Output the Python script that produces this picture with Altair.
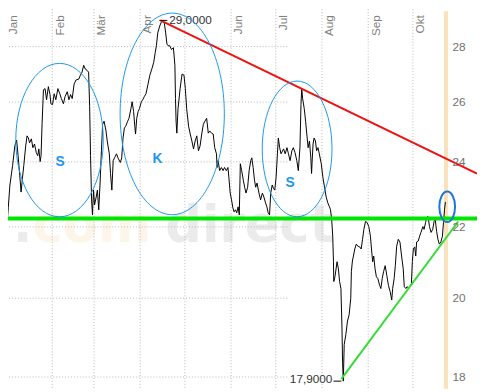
import altair as alt
import pandas as pd

# ---- data (x = days since 1 Jan, y = price) ----
days = [-4.0,0.7,1.5,2.6,4.4,5.9,7.1,8.1,9.2,10.1,11.0,11.9,13.2,14.1,15.0,15.8,17.0,18.0,19.1,20.3,
        21.3,22.0,22.9,23.5,24.2,25.1,26.2,27.2,28.4,29.5,30.1,31.2,32.3,33.4,34.8,36.1,37.1,38.5,39.6,41.1,
        42.2,43.3,44.4,45.7,47.0,48.8,49.9,51.0,52.1,53.2,54.3,55.4,56.1,56.7,57.4,58.0,58.7,59.4,60.5,61.3,
        62.2,63.1,64.0,64.8,65.8,67.1,67.9,69.3,70.1,71.0,71.9,72.8,74.1,75.4,76.7,77.6,78.5,79.4,80.3,81.6,
        82.5,83.8,84.6,85.6,86.4,86.9,87.7,88.6,89.5,90.8,91.7,92.8,93.9,95.2,96.5,97.8,99.1,100.1,100.9,101.8,
        103.1,104.4,105.3,106.2,107.1,108.0,108.8,109.7,111.0,112.3,113.3,113.7,114.1,114.6,115.4,116.8,118.1,119.4,120.3,121.2,
        122.5,123.6,124.7,125.8,126.9,128.0,129.1,130.2,131.3,132.4,133.4,134.6,135.7,136.7,137.9,139.0,140.0,141.2,141.6,142.3,
        143.3,144.5,145.6,146.6,147.8,148.9,149.5,150.4,151.3,152.2,153.0,153.9,154.8,155.7,156.5,157.2,158.1,159.2,160.1,161.0,
        162.1,163.1,164.2,164.9,165.8,166.7,167.5,168.4,169.7,170.8,172.0,173.0,174.1,175.0,175.9,176.8,177.6,178.6,179.4,180.3,
        181.2,182.1,182.7,183.6,184.5,186.2,187.3,188.5,189.5,190.6,191.8,192.8,193.9,195.1,196.1,197.2,197.9,198.4,199.0,200.1,
        201.0,201.8,202.7,203.6,204.5,205.0,205.3,206.0,206.7,207.6,208.4,209.3,210.2,211.5,212.6,213.7,214.8,215.9,217.0,217.7,
        218.5,219.2,219.7,219.9,220.8,222.1,223.0,223.8,224.7,225.4,225.8,226.3,226.9,228.0,229.1,230.2,231.3,231.7,232.4,233.1,
        234.0,235.0,236.1,237.3,238.3,239.2,240.1,241.2,242.3,243.4,244.5,245.2,246.0,246.7,247.6,248.5,249.5,250.7,251.5,252.4,
        253.3,254.4,255.5,256.6,257.7,258.8,259.4,260.4,261.2,262.1,263.2,264.3,265.4,266.5,267.2,268.3,269.1,270.4,271.3,272.0,
        272.6,273.3,274.2,274.9,275.5,276.6,277.5,278.4,279.7,280.5,281.5,282.3,283.2,284.1,285.2,286.3,287.2,288.0,288.9,289.8,
        290.7,291.8,292.8,293.5,294.2,294.8]
prices = [22.07,22.07,22.57,23.27,23.88,24.52,24.71,24.20,23.57,23.05,23.48,23.88,24.52,24.85,24.78,24.62,24.75,24.46,24.58,24.30,
          24.20,24.42,24.01,24.20,25.27,26.43,26.47,26.08,26.54,26.26,25.94,25.91,26.29,26.08,26.47,26.29,26.12,25.94,26.19,26.36,
          26.08,26.26,26.12,26.64,26.78,26.81,26.95,27.06,27.31,27.17,27.13,27.06,25.84,24.20,22.81,22.36,23.11,22.66,22.90,23.11,
          22.51,23.33,24.36,25.24,25.34,25.01,24.68,24.26,23.63,23.11,24.04,24.13,24.26,24.10,23.98,24.13,24.78,25.11,25.17,25.34,
          25.44,25.77,26.01,25.67,25.17,24.91,25.44,25.67,25.77,26.01,26.08,26.19,26.29,26.61,26.95,27.17,27.42,27.78,28.04,28.52,
          28.78,28.96,29.00,28.90,28.52,28.08,28.04,28.04,27.89,27.96,27.31,26.12,25.34,24.94,25.77,26.47,26.99,26.95,26.47,25.77,
          25.17,24.91,24.68,24.42,24.68,24.85,24.36,24.52,24.91,25.24,25.34,25.44,24.94,25.01,24.94,24.91,24.46,24.26,23.82,24.04,
          23.72,23.82,23.72,23.82,23.72,23.82,23.51,23.02,22.81,22.57,22.45,22.51,22.42,22.60,22.36,23.94,23.72,23.42,23.20,23.02,
          23.20,23.72,24.04,24.13,23.82,23.42,23.20,23.33,23.02,22.81,23.02,22.90,22.72,22.60,22.42,22.36,23.02,23.27,23.17,23.11,
          23.51,24.26,24.78,24.46,24.26,24.42,24.26,24.46,24.26,24.04,24.36,24.46,24.30,24.04,23.72,24.46,25.91,26.47,26.12,25.77,
          25.34,24.91,24.46,24.68,24.13,23.63,23.94,24.58,24.78,24.68,24.36,24.46,24.26,23.94,23.51,23.20,22.90,22.72,22.60,22.51,
          22.22,21.73,21.00,20.45,20.61,21.00,20.80,20.45,20.26,19.22,18.36,17.90,18.80,19.05,19.40,19.56,20.00,20.72,21.02,21.16,
          21.36,21.50,21.44,21.42,21.36,21.64,21.93,22.16,22.13,22.01,21.73,21.36,21.00,21.16,20.80,20.58,20.53,20.34,20.26,20.53,
          20.72,20.89,20.61,20.34,20.18,19.95,20.26,20.53,20.89,21.44,21.64,21.56,21.16,20.80,20.31,20.26,20.31,20.26,20.34,20.39,
          21.00,21.36,21.42,21.16,21.56,21.59,21.73,21.84,22.01,21.93,22.13,22.28,22.31,22.01,21.84,21.93,22.16,22.22,21.87,21.64,
          21.50,21.56,21.73,22.13,22.51,22.75]

month_days = [0, 31, 59, 90, 120, 151, 181, 212, 243, 273]
month_names = ["Jan", "Feb", "Mär", "Apr", "Mai", "Jun", "Jul", "Aug", "Sep", "Okt"]
y_ticks = [18, 20, 22, 24, 26, 28]
y_tick_labels = ["18", "20", "22", "24", "26", "28"]

# trend lines / annotations
resistance_days = [103.6, 316.0]
resistance_vals = [29.0, 23.63]
support_days = [224.9, 303.4]
support_vals = [17.95, 22.16]
neckline = 22.25
cursor_day = 295.2

extreme_labels = ["29,0000", "17,9000"]
extreme_vals = [29.0, 17.9]
extreme_tick_from = [102.9, 219.7]
extreme_tick_to = [108.2, 225.0]
extreme_label_days = [109.5, 219.0]

ellipse_days = [35.9, 111.5, 195.3, 296.0]
ellipse_vals = [24.71, 25.59, 24.42, 22.60]
pattern_letters = ["S", "K", "S"]
letter_days = [36.3, 101.6, 190.6]
letter_vals = [23.98, 24.10, 23.32]

watermark_parts = [".", "com", "direct"]
watermark_days = [4.6, 17.8, 106.9]
watermark_val = 21.55

# ---- scales ----
xs = alt.Scale(domain=[-3.96, 316.0], nice=False, zero=False)
ys = alt.Scale(type="log", domain=[17.718, 29.668], nice=False, zero=False)


def X(f="d"):
    return alt.X(f, type="quantitative", scale=xs, axis=None)


def Y(f="v"):
    return alt.Y(f, type="quantitative", scale=ys, axis=None)


BLUE = "#1c96ef"
GRID = "#b8b8b8"

price_df = pd.DataFrame({"d": days, "v": prices})

# watermark
wm = pd.DataFrame({"d": watermark_days, "v": [watermark_val] * 3, "t": watermark_parts})
wm_gray = alt.Chart(wm[wm.t != "com"]).mark_text(
    font="DejaVu Sans", fontWeight="bold", fontSize=52, align="left", baseline="alphabetic",
    color="#ebebeb").encode(x=X(), y=Y(), text="t")
wm_peach = alt.Chart(wm[wm.t == "com"]).mark_text(
    font="DejaVu Sans", fontWeight="bold", fontSize=52, align="left", baseline="alphabetic",
    color="#fdf5e9").encode(x=X(), y=Y(), text="t")

vgrid = alt.Chart(pd.DataFrame({"d": month_days})).mark_rule(
    color=GRID, strokeDash=[1, 2], strokeWidth=1).encode(x=X())
hgrid = alt.Chart(pd.DataFrame({"v": y_ticks})).mark_rule(
    color=GRID, strokeDash=[1, 2], strokeWidth=1).encode(
    y=Y(), x=alt.value(0), x2=alt.X2Datum(cursor_day - 2))

band = alt.Chart(pd.DataFrame({"d": [cursor_day]})).mark_rule(
    color="#f9e2bb", strokeWidth=4).encode(x=X(), y=alt.value(8), y2=alt.value(392))

price = alt.Chart(price_df).mark_line(color="black", strokeWidth=1).encode(x=X(), y=Y())

neck = alt.Chart(pd.DataFrame({"v": [neckline]})).mark_rule(
    color="#00e600", strokeWidth=4).encode(y=Y())

res = alt.Chart(pd.DataFrame({"d": resistance_days, "v": resistance_vals})).mark_line(
    color="#ee1111", strokeWidth=2).encode(x=X(), y=Y())
sup = alt.Chart(pd.DataFrame({"d": support_days, "v": support_vals})).mark_line(
    color="#33dd33", strokeWidth=2).encode(x=X(), y=Y())

ext = pd.DataFrame({"d0": extreme_tick_from, "d1": extreme_tick_to, "v": extreme_vals,
                    "ld": extreme_label_days, "t": extreme_labels})
ext_ticks = alt.Chart(ext).mark_rule(color="black", strokeWidth=1).encode(
    x=X("d0"), x2="d1", y=Y())
ext_hi = alt.Chart(ext.iloc[[0]]).mark_text(
    font="Liberation Sans", fontSize=12, color="#333333", align="left", baseline="middle").encode(
    x=X("ld"), y=Y(), text="t")
ext_lo = alt.Chart(ext.iloc[[1]]).mark_text(
    font="Liberation Sans", fontSize=12, color="#333333", align="right", baseline="middle", dy=-2).encode(
    x=X("ld"), y=Y(), text="t")


def ellipse_path(a):
    k = 0.5523
    return (f"M {-a} 0 C {-a} {-k} {-a*k} -1 0 -1 C {a*k} -1 {a} {-k} {a} 0 "
            f"C {a} {k} {a*k} 1 0 1 C {-a*k} 1 {-a} {k} {-a} 0 Z")


# (half-width, half-height in px, stroke width, colour) — styling of each ring
ring_styles = [(44.5, 78.0, 1, BLUE), (53.0, 102.5, 1, BLUE), (35.5, 69.0, 1, BLUE), (8.0, 15.5, 2, "#1f74dc")]
rings = []
for i, (rx, ry, sw, col) in enumerate(ring_styles):
    df = pd.DataFrame({"d": [ellipse_days[i]], "v": [ellipse_vals[i]]})
    rings.append(alt.Chart(df).mark_point(
        shape=ellipse_path(rx / ry), size=4 * ry * ry, filled=False, stroke=col,
        strokeWidth=sw, opacity=1).encode(x=X(), y=Y()))

letters = alt.Chart(pd.DataFrame({"d": letter_days, "v": letter_vals, "t": pattern_letters})).mark_text(
    font="Liberation Sans", fontWeight="bold", fontSize=14, color=BLUE, align="center",
    baseline="middle").encode(x=X(), y=Y(), text="t")

mdf = pd.DataFrame({"d": month_days, "t": month_names})
mdf = mdf[mdf.t != "Mai"]  # hidden behind the 29,0000 label in the original
months = alt.Chart(mdf).mark_text(
    font="Liberation Sans", fontSize=12, color="#808080", angle=270, align="right",
    baseline="alphabetic", xOffset=11.5).encode(x=X(), y=alt.value(12), text="t")

ylabels = alt.Chart(pd.DataFrame({"v": y_ticks, "t": y_tick_labels})).mark_text(
    font="Liberation Sans", fontSize=12, color="#707070", align="left", baseline="middle").encode(
    x=alt.value(460), y=Y(), text="t")

chart = alt.layer(
    wm_gray, wm_peach, vgrid, hgrid, band, price, neck, res, sup, ext_ticks, ext_hi, ext_lo,
    *rings, letters, months, ylabels
).properties(
    width=485, height=392,
    autosize=alt.AutoSizeParams(type="none"),
    padding={"left": -8, "top": -8, "right": 0, "bottom": 0},
    background="white",
).configure_view(stroke=None)

chart.save("out.html", embed_options={"renderer": "svg", "actions": False})
